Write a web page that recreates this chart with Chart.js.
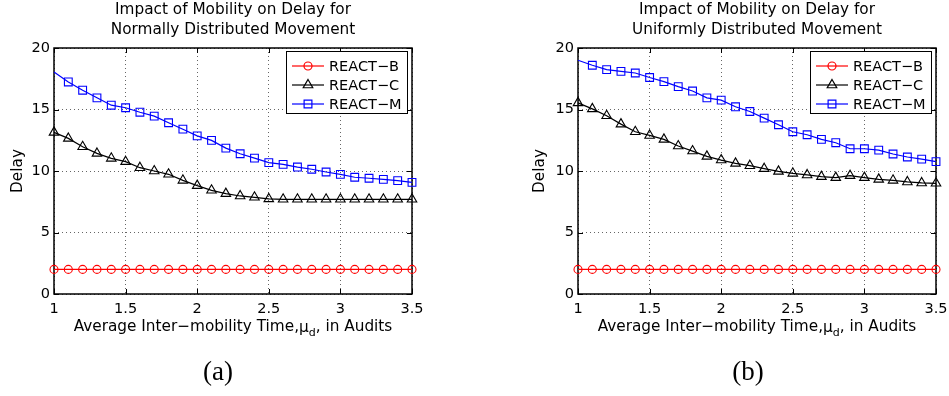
<!DOCTYPE html>
<html>
<head>
<meta charset="utf-8">
<script src="https://cdn.jsdelivr.net/npm/chart.js@4/dist/chart.umd.min.js"></script>
<style>
  html, body { margin: 0; padding: 0; background: #fff; overflow: hidden; }
  #wrap { position: relative; width: 949px; height: 396px; overflow: hidden; }
  .pane { position: absolute; top: 0; height: 396px; }
</style>
</head>
<body>
<div id="wrap">
  <div class="pane" style="left:0"><canvas id="chartA" width="474" height="396"></canvas></div>
  <div class="pane" style="left:475px"><canvas id="chartB" width="500" height="396"></canvas></div>
</div>
<script>
// Eixo x: tempo médio entre mobilidades (auditorias)
const MU = [1.0, 1.1, 1.2, 1.3, 1.4, 1.5, 1.6, 1.7, 1.8, 1.9, 2.0, 2.1, 2.2,
            2.3, 2.4, 2.5, 2.6, 2.7, 2.8, 2.9, 3.0, 3.1, 3.2, 3.3, 3.4, 3.5];
const X_TICKS = [1, 1.5, 2, 2.5, 3, 3.5];
const Y_TICKS = [0, 5, 10, 15, 20];
const SERIES = ["REACT\u2212B", "REACT\u2212C", "REACT\u2212M"];

// (a) movimento com distribuição normal
const NORMAL_B = [2, 2, 2, 2, 2, 2, 2, 2, 2, 2, 2, 2, 2, 2, 2, 2, 2, 2, 2, 2, 2, 2, 2, 2, 2, 2];
const NORMAL_C = [13.14, 12.65, 11.97, 11.43, 11.03, 10.76, 10.27, 10.0, 9.73, 9.24, 8.81, 8.43, 8.16,
                  7.97, 7.86, 7.73, 7.7, 7.7, 7.7, 7.7, 7.7, 7.7, 7.7, 7.7, 7.7, 7.7];
const NORMAL_M = [18.05, 17.24, 16.57, 15.95, 15.35, 15.14, 14.78, 14.46, 13.92, 13.4, 12.86, 12.49, 11.86,
                  11.4, 11.05, 10.68, 10.54, 10.32, 10.14, 9.92, 9.73, 9.49, 9.41, 9.32, 9.22, 9.08];

// (b) movimento com distribuição uniforme
const UNIFORM_B = [2, 2, 2, 2, 2, 2, 2, 2, 2, 2, 2, 2, 2, 2, 2, 2, 2, 2, 2, 2, 2, 2, 2, 2, 2, 2];
const UNIFORM_C = [15.54, 15.05, 14.49, 13.81, 13.19, 12.89, 12.57, 12.03, 11.62, 11.19, 10.89, 10.62, 10.43,
                   10.19, 9.97, 9.81, 9.68, 9.54, 9.46, 9.62, 9.46, 9.32, 9.24, 9.11, 9.03, 9.0];
const UNIFORM_M = [19.0, 18.6, 18.24, 18.1, 17.97, 17.6, 17.27, 16.86, 16.5, 15.95, 15.76, 15.22, 14.84,
                   14.3, 13.76, 13.19, 12.95, 12.57, 12.3, 11.81, 11.81, 11.7, 11.38, 11.14, 10.97, 10.76];

const FONT = "'DejaVu Sans', sans-serif";
// REACT-M não tem marcador no primeiro ponto (x = 1) no original.
const STYLES = [
  { color: "#ff0000", pointStyle: "circle", radius: 4, skipFirst: false },
  { color: "#000000", pointStyle: "triangle", radius: 5.5, skipFirst: false },
  { color: "#0000ff", pointStyle: "rect", radius: 5.5, skipFirst: true },
];

function marker(ctx, style, x, y) {
  const r = style.radius;
  ctx.beginPath();
  if (style.pointStyle === "circle") {
    ctx.arc(x, y, r, 0, Math.PI * 2);
  } else if (style.pointStyle === "triangle") {
    ctx.moveTo(x, y - r);
    ctx.lineTo(x + r * 0.866, y + r * 0.5);
    ctx.lineTo(x - r * 0.866, y + r * 0.5);
    ctx.closePath();
  } else {
    const s = r * Math.SQRT1_2;
    ctx.rect(x - s, y - s, 2 * s, 2 * s);
  }
  ctx.stroke();
}

// Caixa estilo MATLAB, ticks para dentro, títulos, legenda e legenda da figura.
const paperPlugin = {
  id: "paper",
  beforeDatasetsDraw(chart) {
    const { ctx, chartArea: a } = chart;
    const xs = chart.scales.x, ys = chart.scales.y;
    ctx.save();
    ctx.strokeStyle = "#000";
    ctx.lineWidth = 1;
    ctx.beginPath();
    X_TICKS.forEach((v) => {
      const px = Math.round(xs.getPixelForValue(v)) + 0.5;
      ctx.moveTo(px, a.bottom); ctx.lineTo(px, a.bottom - 5);
      ctx.moveTo(px, a.top); ctx.lineTo(px, a.top + 5);
    });
    Y_TICKS.forEach((v) => {
      const py = Math.round(ys.getPixelForValue(v)) + 0.5;
      ctx.moveTo(a.left, py); ctx.lineTo(a.left + 5, py);
      ctx.moveTo(a.right, py); ctx.lineTo(a.right - 5, py);
    });
    ctx.stroke();
    ctx.lineWidth = 1.5;
    ctx.strokeRect(a.left, a.top, a.right - a.left, a.bottom - a.top);
    ctx.restore();
  },
  afterDraw(chart, args, opts) {
    const { ctx, chartArea: a } = chart;
    const cx = (a.left + a.right) / 2;
    ctx.save();
    ctx.fillStyle = "#000";

    // título em duas linhas
    ctx.font = "15.3px " + FONT;
    ctx.textAlign = "center";
    ctx.textBaseline = "alphabetic";
    ctx.fillText(opts.title[0], cx, 14);
    ctx.fillText(opts.title[1], cx, 34);

    // rótulo do eixo x com subscrito
    const p1 = "Average Inter\u2212mobility Time,", mu = "\u03bc", sub = "d", p2 = ", in Audits";
    ctx.font = "15.3px " + FONT;
    const w1 = ctx.measureText(p1).width, wmu = ctx.measureText(mu).width;
    const w2 = ctx.measureText(p2).width;
    ctx.font = "11px " + FONT;
    const wsub = ctx.measureText(sub).width;
    let x = cx - (w1 + wmu + wsub + w2) / 2;
    const base = 331;
    ctx.textAlign = "left";
    ctx.font = "15.3px " + FONT;
    ctx.fillText(p1, x, base); x += w1;
    ctx.fillText(mu, x, base + 1); x += wmu;
    ctx.font = "11px " + FONT;
    ctx.fillText(sub, x, base + 5); x += wsub;
    ctx.font = "15.3px " + FONT;
    ctx.fillText(p2, x, base);

    // rótulo do eixo y
    ctx.save();
    ctx.translate(opts.yLabelX, (a.top + a.bottom) / 2);
    ctx.rotate(-Math.PI / 2);
    ctx.textAlign = "center";
    ctx.textBaseline = "middle";
    ctx.font = "15.3px " + FONT;
    ctx.fillText("Delay", 0, 0);
    ctx.restore();

    // legenda dentro da área do gráfico
    const bw = 121, bh = 62;
    const bx = a.right - 5 - bw, by = a.top + 3;
    ctx.fillStyle = "#fff";
    ctx.fillRect(bx, by, bw, bh);
    ctx.strokeStyle = "#000";
    ctx.lineWidth = 1;
    ctx.strokeRect(bx + 0.5, by + 0.5, bw, bh);
    ctx.font = "14.5px " + FONT;
    ctx.textBaseline = "middle";
    ctx.textAlign = "left";
    chart.data.datasets.forEach((ds, i) => {
      const ry = by + 15 + i * 19;
      const st = STYLES[i];
      ctx.strokeStyle = st.color;
      ctx.lineWidth = 1.2;
      ctx.beginPath();
      ctx.moveTo(bx + 6, ry); ctx.lineTo(bx + 38, ry);
      ctx.stroke();
      marker(ctx, st, bx + 22, ry);
      ctx.fillStyle = "#000";
      ctx.fillText(ds.label, bx + 43, ry + 1);
    });

    // legenda da subfigura
    ctx.font = "27px 'Liberation Serif', 'DejaVu Serif', serif";
    ctx.textAlign = "center";
    ctx.textBaseline = "middle";
    ctx.fillText(opts.caption, opts.captionX, 373);
    ctx.restore();
  },
};

function renderPanel(canvas, values, opts) {
  const datasets = values.map((vals, i) => ({
    label: SERIES[i],
    data: vals.map((v, k) => ({ x: MU[k], y: v })),
    borderColor: STYLES[i].color,
    backgroundColor: "rgba(0,0,0,0)",
    borderWidth: 1.2,
    pointStyle: STYLES[i].pointStyle,
    pointRadius: vals.map((v, k) => (k === 0 && STYLES[i].skipFirst ? 0 : STYLES[i].radius)),
    pointBorderWidth: 1.1,
    pointBorderColor: STYLES[i].color,
    pointBackgroundColor: "rgba(0,0,0,0)",
    tension: 0,
    clip: false,
  }));

  return new Chart(canvas, {
    type: "line",
    data: { datasets },
    plugins: [paperPlugin],
    options: {
      responsive: false,
      animation: false,
      devicePixelRatio: 1,
      layout: { padding: { left: 0, right: canvas.width - opts.plotRight, top: 48, bottom: 0 } },
      plugins: {
        legend: { display: false },
        title: { display: false },
        tooltip: { enabled: false },
        paper: opts,
      },
      scales: {
        x: {
          type: "linear",
          min: 1,
          max: 3.5,
          afterFit: (s) => { s.height = 102; },
          afterBuildTicks: (s) => { s.ticks = X_TICKS.map((v) => ({ value: v })); },
          ticks: {
            color: "#000",
            font: { family: FONT, size: 14.5 },
            padding: 7,
            maxRotation: 0,
            callback: (v) => String(v),
          },
          grid: { color: "#666", lineWidth: 1, drawTicks: false },
          border: { display: false, dash: [1, 3] },
        },
        y: {
          min: 0,
          max: 20,
          afterFit: (s) => { s.width = opts.plotLeft; },
          afterBuildTicks: (s) => { s.ticks = Y_TICKS.map((v) => ({ value: v })); },
          ticks: {
            color: "#000",
            font: { family: FONT, size: 14.5 },
            padding: 4,
            callback: (v) => String(v),
          },
          grid: { color: "#666", lineWidth: 1, drawTicks: false },
          border: { display: false, dash: [1, 3] },
        },
      },
    },
  });
}

renderPanel(document.getElementById("chartA"), [NORMAL_B, NORMAL_C, NORMAL_M], {
  title: ["Impact of Mobility on Delay for", "Normally Distributed Movement"],
  caption: "(a)",
  captionX: 218,
  yLabelX: 18,
  plotLeft: 54,
  plotRight: 412,
});

renderPanel(document.getElementById("chartB"), [UNIFORM_B, UNIFORM_C, UNIFORM_M], {
  title: ["Impact of Mobility on Delay for", "Uniformly Distributed Movement"],
  caption: "(b)",
  captionX: 273,
  yLabelX: 65,
  plotLeft: 103,
  plotRight: 461,
});
</script>
</body>
</html>
